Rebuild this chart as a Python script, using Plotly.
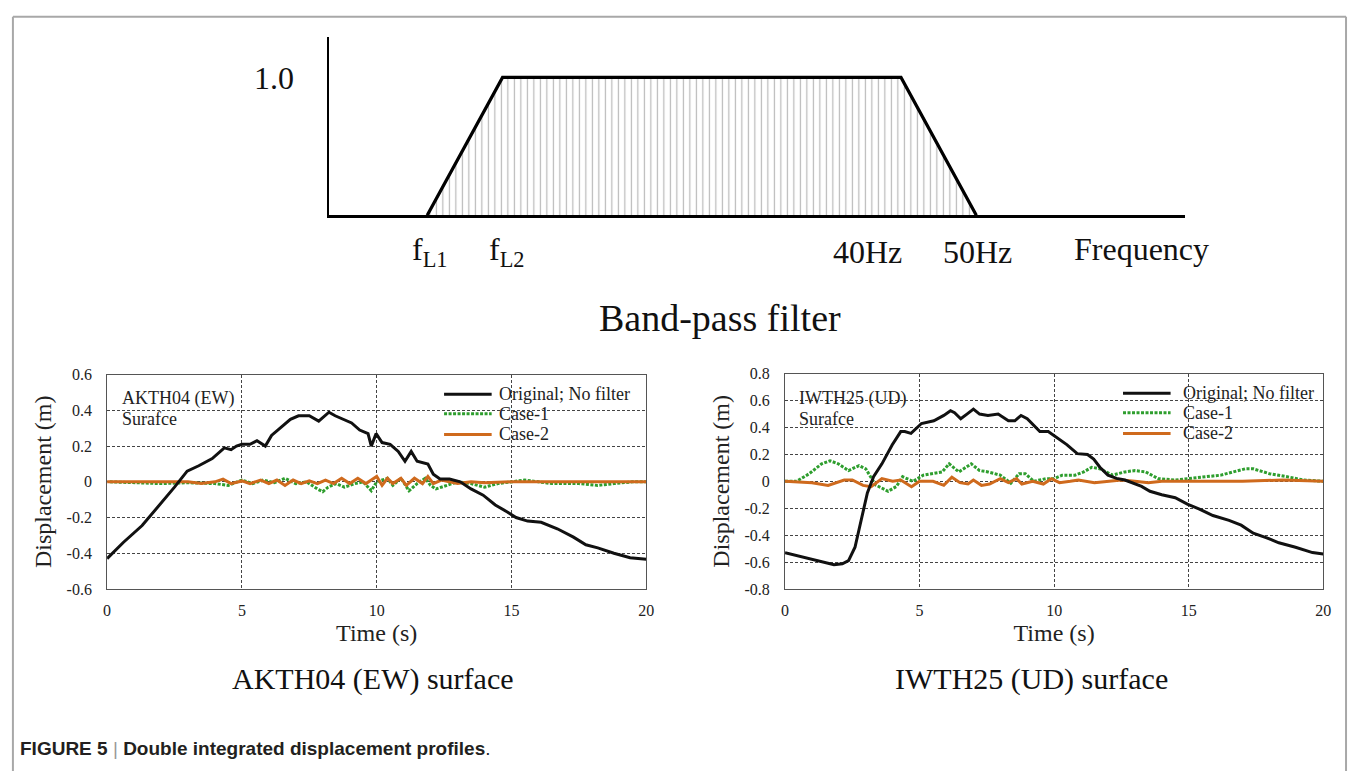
import plotly.graph_objects as go

# ---------------- data ----------------
# schematic band-pass filter (positions along a schematic frequency axis)
filter_axis_range = [0, 864]
filter_pos = [99, 175, 577, 653]
filter_gain = [0.0, 1.0, 1.0, 0.0]
filter_labels = ["f<sub>L1</sub>", "f<sub>L2</sub>", "40Hz", "50Hz"]

# AKTH04 (EW) surface
akt_t_orig = [0, 0.6, 1.3, 1.9, 2.5, 2.97, 3.4, 3.9, 4.35, 4.6, 4.8, 5.0, 5.3, 5.56, 5.87,
              6.1, 6.4, 6.8, 7.1, 7.5, 7.85, 8.23, 8.46, 8.77, 9.07, 9.37, 9.68, 9.8,
              9.98, 10.2, 10.5, 10.8, 11.05, 11.28, 11.5, 11.9, 12.1, 12.35, 12.7, 13.1,
              13.5, 13.95, 14.4, 14.86, 15.17, 15.6, 16.1, 16.7, 17.3, 17.76, 18.2, 18.8,
              19.4, 20]
akt_orig = [-0.43, -0.34, -0.245, -0.14, -0.03, 0.06, 0.09, 0.13, 0.19, 0.18, 0.2, 0.21,
            0.21, 0.23, 0.2, 0.26, 0.30, 0.35, 0.37, 0.37, 0.34, 0.39, 0.37, 0.35, 0.33,
            0.29, 0.27, 0.2, 0.27, 0.22, 0.21, 0.17, 0.115, 0.17, 0.115, 0.1, 0.043, 0.016,
            0.016, 0.0, -0.04, -0.075, -0.13, -0.17, -0.2, -0.22, -0.227, -0.263, -0.31,
            -0.353, -0.37, -0.40, -0.425, -0.434]
akt_t_c1 = [0.1, 1, 2, 3, 4, 4.5, 5, 5.4, 5.8, 6.2, 6.6, 7.0, 7.4, 7.8, 8.0, 8.2, 8.5, 8.8,
            9.2, 9.5, 9.8, 10.0, 10.4, 10.6, 10.9, 11.2, 11.5, 11.8, 12.0, 12.2, 12.6, 13.0,
            13.5, 14.0, 14.5, 15, 15.5, 16, 16.5, 17.5, 18.2, 18.8, 19.5, 20]
akt_c1 = [0, -0.005, -0.01, -0.005, -0.01, -0.02, 0.01, -0.01, 0.01, -0.005, 0.02, -0.01,
          0.0, -0.04, -0.055, -0.03, -0.01, -0.03, -0.01, 0.0, -0.05, 0.0, 0.02, -0.02, 0.02,
          -0.05, -0.01, 0.02, -0.02, -0.04, -0.02, 0.0, -0.01, -0.03, -0.01, 0.0, 0.01, 0.0,
          -0.01, -0.01, -0.02, -0.01, 0.0, 0.0]
akt_t_c2 = [0, 3.0, 3.5, 4, 4.3, 4.6, 5.0, 5.3, 5.7, 6.0, 6.3, 6.6, 6.9, 7.2, 7.5, 7.8, 8.1,
            8.4, 8.7, 9.0, 9.3, 9.6, 9.8, 10.0, 10.2, 10.4, 10.6, 10.9, 11.1, 11.4, 11.7,
            11.9, 12.1, 12.4, 12.7, 13.0, 13.5, 14, 15, 20]
akt_c2 = [0, 0, -0.01, 0.0, 0.015, -0.01, 0.005, -0.01, 0.01, -0.01, 0.01, -0.02, 0.01,
          -0.01, 0.005, -0.01, 0.01, -0.01, 0.02, -0.01, 0.02, -0.01, 0.01, 0.03, -0.02,
          0.02, -0.01, 0.02, -0.02, 0.02, -0.01, 0.03, -0.01, 0.01, 0.0, -0.01, 0.0,
          -0.005, 0.0, 0.0]

# IWTH25 (UD) surface
iwt_t_orig = [0, 0.74, 1.36, 1.82, 2.13, 2.36, 2.6, 2.9, 3.06, 3.29, 3.6, 3.98, 4.3, 4.45,
              4.68, 5.07, 5.53, 5.9, 6.15, 6.3, 6.53, 6.76, 7.0, 7.23, 7.54, 7.92, 8.3,
              8.54, 8.77, 9.0, 9.24, 9.47, 9.78, 10.16, 10.47, 10.86, 11.24, 11.47, 11.7,
              12.0, 12.32, 12.63, 12.94, 13.25, 13.56, 14.0, 14.5, 14.95, 15.4, 15.9, 16.5,
              16.95, 17.4, 17.9, 18.35, 18.97, 19.6, 20]
iwt_orig = [-0.53, -0.565, -0.60, -0.62, -0.613, -0.59, -0.49, -0.23, -0.086, 0.034, 0.13,
            0.27, 0.37, 0.37, 0.357, 0.43, 0.45, 0.49, 0.525, 0.51, 0.465, 0.5, 0.537, 0.5,
            0.49, 0.5, 0.45, 0.45, 0.49, 0.465, 0.417, 0.37, 0.37, 0.32, 0.273, 0.206, 0.2,
            0.165, 0.105, 0.046, 0.022, 0.01, -0.014, -0.038, -0.074, -0.1, -0.122, -0.17,
            -0.206, -0.254, -0.29, -0.326, -0.386, -0.42, -0.457, -0.49, -0.53, -0.54]
iwt_t_c1 = [0, 0.43, 0.9, 1.36, 1.67, 1.98, 2.36, 2.75, 3.0, 3.36, 3.83, 4.14, 4.37, 4.76,
            5.14, 5.53, 5.84, 6.1, 6.46, 6.92, 7.23, 7.54, 8.0, 8.39, 8.7, 8.93, 9.24, 9.47,
            9.7, 10.0, 10.3, 10.78, 11.1, 11.4, 11.7, 12.17, 12.63, 13.0, 13.4, 13.87, 14.5,
            14.95, 15.57, 16.2, 16.65, 17.1, 17.4, 18.0, 18.66, 19.27, 20]
iwt_c1 = [0, 0, 0.057, 0.13, 0.153, 0.13, 0.08, 0.117, 0.093, -0.026, -0.074, -0.038, 0.034,
          0.0, 0.046, 0.057, 0.07, 0.13, 0.07, 0.13, 0.08, 0.07, 0.046, -0.014, 0.057,
          0.057, 0.0, 0.01, 0.02, 0.02, 0.046, 0.046, 0.07, 0.105, 0.093, 0.046, 0.07, 0.08,
          0.07, 0.02, 0.01, 0.02, 0.034, 0.046, 0.07, 0.093, 0.093, 0.057, 0.034, 0.01, 0.0]
iwt_t_c2 = [0, 1.0, 1.6, 2.2, 2.5, 2.9, 3.2, 3.6, 4.0, 4.3, 4.7, 5.0, 5.5, 5.9, 6.2, 6.5,
            6.8, 7.0, 7.3, 7.6, 8.0, 8.3, 8.6, 8.8, 9.2, 9.6, 9.9, 10.2, 10.6, 10.9, 11.5,
            12.5, 13.0, 13.5, 14.0, 15.0, 17.0, 18.5, 20]
iwt_c2 = [0, -0.01, -0.03, 0.01, 0.01, -0.03, -0.04, 0.02, 0.0, 0.01, -0.04, 0.0, 0.0,
          -0.03, 0.03, -0.01, -0.02, 0.01, -0.03, -0.02, 0.02, -0.01, 0.02, -0.02, 0.0,
          -0.02, 0.02, -0.01, 0.0, 0.01, -0.01, 0.01, 0.0, -0.01, 0.0, 0.0, 0.0, 0.01, 0.0]

time_ticks = [0, 5, 10, 15, 20]
time_ticktext = ["0", "5", "10", "15", "20"]
akt_yticks = [-0.6, -0.4, -0.2, 0, 0.2, 0.4, 0.6]
akt_yticktext = ["-0.6", "-0.4", "-0.2", "0", "0.2", "0.4", "0.6"]
iwt_yticks = [-0.8, -0.6, -0.4, -0.2, 0, 0.2, 0.4, 0.6, 0.8]
iwt_yticktext = ["-0.8", "-0.6", "-0.4", "-0.2", "0", "0.2", "0.4", "0.6", "0.8"]

series_names = ["Original; No filter", "Case-1", "Case-2"]

# ---------------- figure ----------------
W, H = 1357, 771
SERIF = "Liberation Serif"
SANS = "Liberation Sans"
BLACK = "#111111"
GREEN = "#2e9e2e"
ORANGE = "#cf6a1d"


def px(x):
    return x / W


def py(y):
    return 1 - y / H


fig = go.Figure()

# Band-pass filter schematic
fig.add_trace(go.Scatter(
    x=filter_pos, y=filter_gain, xaxis="x3", yaxis="y3", mode="lines",
    line=dict(color="black", width=3.2), fill="toself", fillcolor="white",
    fillpattern=dict(shape="|", fgcolor="#707070", bgcolor="white", size=6.5, solidity=0.18),
    showlegend=False, cliponaxis=False, hoverinfo="skip"))

styles = [dict(color=BLACK, width=3), dict(color=GREEN, width=3, dash="3px,1.5px"),
          dict(color=ORANGE, width=3)]

left_sets = [(akt_t_orig, akt_orig), (akt_t_c1, akt_c1), (akt_t_c2, akt_c2)]
right_sets = [(iwt_t_orig, iwt_orig), (iwt_t_c1, iwt_c1), (iwt_t_c2, iwt_c2)]

# draw cases first so that the original (black) curve lies on top
for order in (1, 2, 0):
    t, v = left_sets[order]
    fig.add_trace(go.Scatter(x=t, y=v, xaxis="x", yaxis="y", mode="lines",
                             name=series_names[order], line=styles[order],
                             showlegend=False))
    t, v = right_sets[order]
    fig.add_trace(go.Scatter(x=t, y=v, xaxis="x2", yaxis="y2", mode="lines",
                             name=series_names[order], line=styles[order],
                             showlegend=False))

tickfont = dict(family=SERIF, size=16, color="#222")
titlefont = dict(family=SERIF, size=24, color="#222")

common_x = dict(range=[0, 20], tickvals=time_ticks, ticktext=time_ticktext, showgrid=True,
                gridcolor="#444", griddash="3px,2px", gridwidth=1, zeroline=False,
                showline=True, mirror=True, linecolor="#555", linewidth=1, ticks="",
                tickfont=tickfont, ticklabelstandoff=7,
                title=dict(text="Time (s)", font=titlefont, standoff=6))
common_y = dict(showgrid=True, gridcolor="#444", griddash="3px,2px", gridwidth=1,
                zeroline=False, showline=True, mirror=True, linecolor="#555", linewidth=1,
                ticks="", tickfont=tickfont, ticklabelstandoff=11,
                title=dict(text="Displacement (m)", font=titlefont, standoff=8))

fig.update_layout(
    width=W, height=H, margin=dict(l=0, r=0, t=0, b=0),
    paper_bgcolor="white", plot_bgcolor="white", showlegend=False,
    xaxis=dict(domain=[px(104), px(648)], anchor="y", **common_x),
    yaxis=dict(domain=[py(594), py(375)], anchor="x", range=[-0.6, 0.6],
               tickvals=akt_yticks, ticktext=akt_yticktext, **common_y),
    xaxis2=dict(domain=[px(788), px(1331)], anchor="y2", **common_x),
    yaxis2=dict(domain=[py(594), py(374)], anchor="x2", range=[-0.8, 0.8],
                tickvals=iwt_yticks, ticktext=iwt_yticktext, **common_y),
    xaxis3=dict(domain=[px(328), px(1192)], anchor="y3", range=filter_axis_range,
                showline=True, linecolor="black", linewidth=3, showgrid=False,
                zeroline=False, showticklabels=False, ticks=""),
    yaxis3=dict(domain=[py(212), py(30)], anchor="x3", range=[0, 1.2908],
                showline=True, linecolor="black", linewidth=2, showgrid=False,
                zeroline=False, showticklabels=False, ticks=""),
)


def text(x, y, s, size, family=SERIF, xanchor="center", color="#111", **kw):
    return dict(x=px(x), y=py(y), xref="paper", yref="paper", text=s, showarrow=False,
                xanchor=xanchor, yanchor="middle", font=dict(family=family, size=size,
                                                             color=color), **kw)


ann = []
# filter labels, anchored to the schematic frequency axis
label_shift = [3, 4, -33, 1]
for pos, lab, sh in zip(filter_pos, filter_labels, label_shift):
    ann.append(dict(x=pos, y=py(249), xref="x3", yref="paper", text=lab, showarrow=False,
                    xshift=sh, font=dict(family=SERIF, size=32, color="#111"),
                    xanchor="center", yanchor="middle"))
ann.append(text(1148, 246, "Frequency", 32))
ann.append(text(272, 72, "1.0", 32))
ann.append(text(722, 317, "Band-pass filter", 38))

# in-plot station labels
ann.append(text(117, 399, "AKTH04 (EW)", 18, xanchor="left", color="#222"))
ann.append(text(117, 420, "Surafce", 18, xanchor="left", color="#222"))
ann.append(text(800, 399, "IWTH25 (UD)", 18, xanchor="left", color="#222"))
ann.append(text(800, 420, "Surafce", 18, xanchor="left", color="#222"))

# legends (text)
legend_rows = [395, 415, 436]
for name, yy in zip(series_names, legend_rows):
    ann.append(text(497, yy, name, 18, xanchor="left", color="#222"))
    ann.append(text(1188, yy - 1, name, 18, xanchor="left", color="#222"))

# subplot titles
ann.append(text(372, 686, "AKTH04 (EW) surface", 30))
ann.append(text(1037, 686, "IWTH25 (UD) surface", 30))
# caption
ann.append(text(14, 757, "<b>FIGURE 5</b> <span style='color:#999'>|</span> "
                         "<b>Double integrated displacement profiles</b>.", 19,
                family=SANS, xanchor="left", color="#231f20"))
fig.update_layout(annotations=ann)

# legend swatches
swatch_styles = [dict(color=BLACK, width=3), dict(color=GREEN, width=3, dash="3px,1.5px"),
                 dict(color=ORANGE, width=3)]
for st, yy in zip(swatch_styles, legend_rows):
    fig.add_shape(type="line", xref="paper", yref="paper", x0=px(444), x1=px(492),
                  y0=py(yy), y1=py(yy), line=st)
    fig.add_shape(type="line", xref="paper", yref="paper", x0=px(1129), x1=px(1177),
                  y0=py(yy - 1), y1=py(yy - 1), line=st)

# outer frame (left, top, right edges)
frame = dict(color="#a8a8a8", width=2)
fig.add_shape(type="line", xref="paper", yref="paper", x0=px(9), x1=px(9),
              y0=py(9), y1=-0.05, line=frame)
fig.add_shape(type="line", xref="paper", yref="paper", x0=px(9), x1=px(1354),
              y0=py(9), y1=py(9), line=frame)
fig.add_shape(type="line", xref="paper", yref="paper", x0=px(1354), x1=px(1354),
              y0=py(9), y1=-0.05, line=frame)

# make the page exactly the size of the figure (no default body margin)
fig.write_html("out.html",
               post_script="document.body.style.margin='0';"
                           "document.body.style.overflow='hidden';")
